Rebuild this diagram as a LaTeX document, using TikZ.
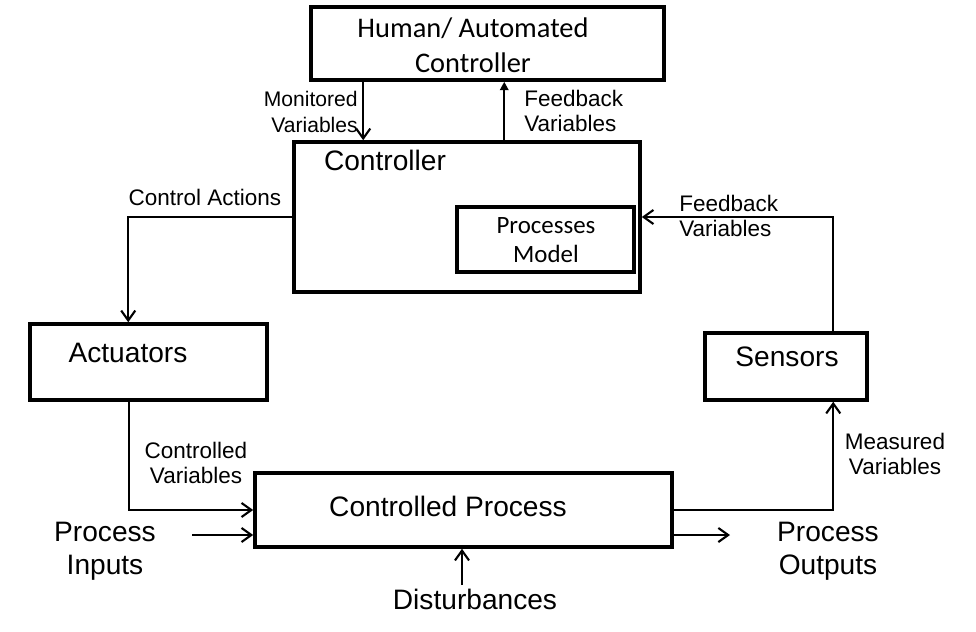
\documentclass[tikz,border=0pt]{standalone}
\usepackage{fontspec}
\setmainfont{Liberation Sans}
\newfontfamily\calib{Carlito}
\usetikzlibrary{arrows.meta,positioning,calc}

\begin{document}
\begin{tikzpicture}[x=0.025cm,y=-0.025cm,
  box/.style={draw,line width=2.5pt,inner sep=0pt},
  big/.style={font=\fontsize{20}{23.4}\selectfont,align=center,inner sep=0pt},
  small/.style={font=\fontsize{16}{18.4}\selectfont,align=center,inner sep=0pt},
  arr/.style={-{Straight Barb[length=7pt,width=10pt]},line width=1.5pt},
  tri/.style={-{Triangle[length=6pt,width=6pt]},line width=1.5pt},
]
\useasboundingbox (0,0) rectangle (976,632);
% boxes
\node[box,minimum width=8.825cm,minimum height=1.825cm] (human) at (487.5,43.5) {};
\node[box,minimum width=8.65cm,minimum height=3.75cm] (ctrl) at (467,217) {};
\node[box,minimum width=4.425cm,minimum height=1.625cm] (model) at (545.5,239.5) {};
\node[box,minimum width=5.925cm,minimum height=1.9cm] (act) at (148.5,362) {};
\node[box,minimum width=4.05cm,minimum height=1.675cm] (sens) at (786,366.5) {};
\node[box,minimum width=10.425cm,minimum height=1.85cm] (proc) at (463.5,510) {};
% box texts
\node[big,font=\calib\fontsize{20.2}{24.8}\selectfont] (humantxt) at (473,45) {Human/ Automated\\Controller};
\node[big] (ctrltxt) at (385,160) {Controller};
\node[small,font=\calib\fontsize{17.7}{20.6}\selectfont] (modeltxt) at (546,240) {Processes\\Model};
\node[big] (acttxt) at (128,353) {Actuators};
\node[big] (senstxt) at (787,357) {Sensors};
\node[big] (proctxt) at (448,506) {Controlled Process};
% outside labels
\node[small,font=\fontsize{15}{18.4}\selectfont,align=right,anchor=east] (monlbl) at (358,112) {Monitored\\Variables};
\node[small,align=left,anchor=west] (fbtoplbl) at (524,111) {Feedback\\Variables};
\node[small] (calbl) at (205,197) {Control Actions};
\node[small,align=left,anchor=west] (fbrlbl) at (679,216) {Feedback\\Variables};
\node[small] (cvlbl) at (196,463) {Controlled\\Variables};
\node[small] (mvlbl) at (895,454) {Measured\\Variables};
\node[big] (inlbl) at (105,551) {Process\\Inputs};
\node[big] (outlbl) at (828,551) {Process\\Outputs};
\node[big] (distlbl) at (475,599) {Disturbances};
\coordinate (inp) at (192,535);
\coordinate (outp) at (730,535);
\coordinate (dst) at (462,585);
% connectors
\draw[arr] ([xshift=1.775cm]ctrl.north west |- human.south) -- ([xshift=1.775cm]ctrl.north west);
\draw[tri] ([xshift=5.3cm]ctrl.north west) -- ([xshift=5.3cm]ctrl.north west |- human.south);
\draw[arr] (ctrl.west) -| ([xshift=2.5cm]act.north west);
\draw[arr] ([xshift=3.25cm]sens.north west) |- (ctrl.east);
\draw[arr] ([xshift=2.525cm]act.south west) |- (proc.west);
\draw[arr] (proc.east) -| ([xshift=3.25cm]sens.south west);
\draw[arr] (inp) -- (inp -| proc.west);
\draw[arr] (outp -| proc.east) -- (outp);
\draw[arr] (dst) -- (dst |- proc.south);
\end{tikzpicture}
\end{document}
